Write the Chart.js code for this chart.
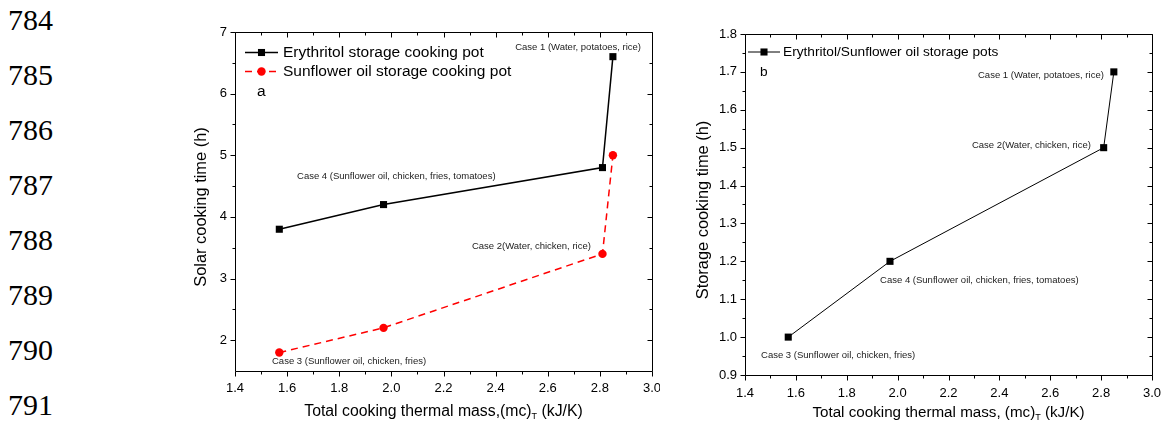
<!DOCTYPE html>
<html>
<head>
<meta charset="utf-8">
<script src="https://cdn.jsdelivr.net/npm/chart.js@4.4.1/dist/chart.umd.min.js"></script>
<style>
  body { margin: 0; background: #fff; width: 1175px; height: 426px; overflow: hidden; position: relative; }
  .ln { position: absolute; left: 8px; font: 30px "Liberation Serif", "Times New Roman", serif; line-height: 30px; color: #000; }
  canvas { position: absolute; top: 0; }
</style>
</head>
<body>
<div id="lines"></div>
<canvas id="chartA" width="480" height="426" style="left:180px"></canvas>
<canvas id="chartB" width="495" height="426" style="left:680px"></canvas>
<script>
// ---- data ----
const lineNumbers = [784, 785, 786, 787, 788, 789, 790, 791];
const thermalMass = [1.57, 1.97, 2.81, 2.85];          // (mc)_T, kJ/K
const erythritolSolar = [3.8, 4.2, 4.8, 6.6];          // h
const sunflowerSolar = [1.8, 2.2, 3.4, 5.0];           // h
const storageTime = [1.0, 1.2, 1.5, 1.7];              // h
const xTicks = [1.4, 1.6, 1.8, 2.0, 2.2, 2.4, 2.6, 2.8, 3.0];
const yTicksA = [2, 3, 4, 5, 6, 7];
const yTicksB = [0.9, 1.0, 1.1, 1.2, 1.3, 1.4, 1.5, 1.6, 1.7, 1.8];

// case labels, anchored in data coordinates (left edge, middle)
const notesA = [
  { text: 'Case 1 (Water, potatoes, rice)', x: 2.475, y: 6.75 },
  { text: 'Case 4 (Sunflower oil, chicken, fries, tomatoes)', x: 1.638, y: 4.65 },
  { text: 'Case 2(Water, chicken, rice)', x: 2.309, y: 3.52 },
  { text: 'Case 3 (Sunflower oil, chicken, fries)', x: 1.542, y: 1.66 }
];
const notesB = [
  { text: 'Case 1 (Water, potatoes, rice)', x: 2.316, y: 1.69 },
  { text: 'Case 2(Water, chicken, rice)', x: 2.292, y: 1.505 },
  { text: 'Case 4 (Sunflower oil, chicken, fries, tomatoes)', x: 1.931, y: 1.151 },
  { text: 'Case 3 (Sunflower oil, chicken, fries)', x: 1.463, y: 0.953 }
];

// line numbers down the page margin
const linesDiv = document.getElementById('lines');
lineNumbers.forEach((n, i) => {
  const d = document.createElement('div');
  d.className = 'ln';
  d.style.top = (5 + i * 55) + 'px';
  d.textContent = n;
  linesDiv.appendChild(d);
});

const FONT = '"Liberation Sans", Arial, sans-serif';

function points(xs, ys) {
  return xs.map((x, i) => ({ x: x, y: ys[i] }));
}

function midpoints(ticks) {
  const out = [];
  for (let i = 0; i < ticks.length - 1; i++) out.push((ticks[i] + ticks[i + 1]) / 2);
  return out;
}

function drawMarker(ctx, ds, cx, cy) {
  ctx.fillStyle = ds.backgroundColor;
  ctx.beginPath();
  if (ds.pointStyle === 'rect') {
    const h = ds.pointRadius * Math.SQRT1_2;
    ctx.rect(cx - h, cy - h, 2 * h, 2 * h);
  } else {
    ctx.arc(cx, cy, ds.pointRadius, 0, Math.PI * 2);
  }
  ctx.fill();
}

// frame + Origin-style ticks (left/bottom out, top/right in)
const framePlugin = {
  id: 'frame',
  afterDraw(chart, args, o) {
    const { ctx, chartArea: a, scales: { x, y } } = chart;
    ctx.save();
    ctx.strokeStyle = '#000';
    ctx.lineWidth = 1;
    ctx.setLineDash([]);
    const L = Math.round(a.left) + 0.5, R = Math.round(a.right) + 0.5;
    const T = Math.round(a.top) + 0.5, B = Math.round(a.bottom) + 0.5;
    ctx.beginPath();
    ctx.rect(L, T, R - L, B - T);
    const xt = (v, len) => {
      const px = Math.round(x.getPixelForValue(v)) + 0.5;
      ctx.moveTo(px, B); ctx.lineTo(px, B + len);
      ctx.moveTo(px, T); ctx.lineTo(px, T + len);
    };
    const yt = (v, len) => {
      const py = Math.round(y.getPixelForValue(v)) + 0.5;
      ctx.moveTo(L - len, py); ctx.lineTo(L, py);
      ctx.moveTo(R - len, py); ctx.lineTo(R, py);
    };
    xTicks.forEach(v => xt(v, 5));
    midpoints(xTicks).forEach(v => xt(v, 3));
    o.yTicks.forEach(v => yt(v, 5));
    midpoints(o.yTicks).forEach(v => yt(v, 3));
    ctx.stroke();
    ctx.restore();
  }
};

// axis titles, inner legend, panel letter and case labels
const textPlugin = {
  id: 'texts',
  afterDraw(chart, args, o) {
    const { ctx, chartArea: a, scales: { x, y } } = chart;
    ctx.save();
    ctx.fillStyle = '#000';
    ctx.textBaseline = 'middle';

    // x title with subscript T
    const parts = [
      { t: o.xTitle[0], f: o.xTitleSize + 'px ' + FONT, dy: 0 },
      { t: 'T', f: '9px ' + FONT, dy: 5 },
      { t: o.xTitle[1], f: o.xTitleSize + 'px ' + FONT, dy: 0 }
    ];
    let total = 0;
    parts.forEach(p => { ctx.font = p.f; p.w = ctx.measureText(p.t).width; total += p.w; });
    let tx = (a.left + a.right) / 2 - total / 2;
    ctx.textAlign = 'left';
    parts.forEach(p => { ctx.font = p.f; ctx.fillText(p.t, tx, o.xTitleY + p.dy); tx += p.w; });

    // y title
    ctx.save();
    ctx.translate(o.yTitleX, o.yTitleY);
    ctx.rotate(-Math.PI / 2);
    ctx.textAlign = 'center';
    ctx.font = '16.4px ' + FONT;
    ctx.fillText(o.yTitle, 0, 0);
    ctx.restore();

    // legend
    const lg = o.legend;
    chart.data.datasets.forEach((ds, i) => {
      const ly = a.top + lg.y + i * lg.gap;
      ctx.save();
      ctx.strokeStyle = ds.borderColor;
      ctx.lineWidth = ds.borderWidth;
      ctx.setLineDash(ds.borderDash || []);
      ctx.beginPath();
      ctx.moveTo(a.left + lg.x0, ly);
      ctx.lineTo(a.left + lg.x1, ly);
      ctx.stroke();
      ctx.restore();
      drawMarker(ctx, ds, a.left + (lg.x0 + lg.x1) / 2, ly);
      ctx.fillStyle = '#000';
      ctx.font = lg.size + 'px ' + FONT;
      ctx.textAlign = 'left';
      ctx.fillText(ds.label, a.left + lg.tx, ly);
    });
    ctx.font = lg.size + 'px ' + FONT;
    ctx.fillText(o.letter.t, a.left + o.letter.x, a.top + o.letter.y);

    // case labels
    ctx.font = '9.5px ' + FONT;
    ctx.fillStyle = '#222';
    o.notes.forEach(n => {
      ctx.fillText(n.text, x.getPixelForValue(n.x), y.getPixelForValue(n.y));
    });
    ctx.restore();
  }
};

function makeChart(id, datasets, cfg) {
  return new Chart(document.getElementById(id), {
    type: 'scatter',
    data: { datasets: datasets },
    options: {
      responsive: false,
      animation: false,
      events: [],
      layout: { padding: { top: cfg.top, right: cfg.right, left: 0, bottom: 0 } },
      plugins: {
        legend: { display: false },
        tooltip: { enabled: false },
        frame: { yTicks: cfg.yTicks },
        texts: cfg.texts
      },
      scales: {
        x: {
          type: 'linear', min: 1.4, max: 3.0,
          grid: { display: false, drawTicks: false }, border: { display: false },
          afterBuildTicks: s => { s.ticks = xTicks.map(v => ({ value: v })); },
          afterFit: s => { s.height = cfg.xHeight; s.paddingLeft = 0; s.paddingRight = 0; },
          ticks: {
            autoSkip: false, maxRotation: 0, padding: cfg.xPad, color: '#000',
            font: { family: FONT, size: 13 },
            callback: v => Number(v).toFixed(1)
          }
        },
        y: {
          type: 'linear', min: cfg.yMin, max: cfg.yMax,
          grid: { display: false, drawTicks: false }, border: { display: false },
          afterBuildTicks: s => { s.ticks = cfg.yTicks.map(v => ({ value: v })); },
          afterFit: s => { s.width = cfg.yWidth; s.paddingTop = 0; s.paddingBottom = 0; },
          ticks: {
            autoSkip: false, padding: 8, color: '#000',
            font: { family: FONT, size: 13 },
            callback: cfg.yFormat
          }
        }
      }
    },
    plugins: [framePlugin, textPlugin]
  });
}

makeChart('chartA', [
  {
    label: 'Erythritol storage cooking pot',
    data: points(thermalMass, erythritolSolar),
    showLine: true, borderColor: '#000', backgroundColor: '#000',
    borderWidth: 1.5, pointStyle: 'rect', pointRadius: 5, pointBorderWidth: 0
  },
  {
    label: 'Sunflower oil storage cooking pot',
    data: points(thermalMass, sunflowerSolar),
    showLine: true, borderColor: '#ff0000', backgroundColor: '#ff0000',
    borderWidth: 1.5, borderDash: [7, 5], pointStyle: 'circle', pointRadius: 4.2, pointBorderWidth: 0
  }
], {
  top: 32, right: 8, xHeight: 55, yWidth: 55, xPad: 10, yMin: 1.5, yMax: 7,
  yTicks: yTicksA,
  yFormat: v => String(v),
  texts: {
    xTitle: ['Total cooking thermal mass,(mc)', ' (kJ/K)'], xTitleY: 412, xTitleSize: 15.8,
    yTitle: 'Solar cooking time (h)', yTitleX: 21, yTitleY: 207,
    legend: { x0: 10, x1: 43, tx: 48, y: 20.5, gap: 19, size: 15.5 },
    letter: { t: 'a', x: 22, y: 59.5 },
    notes: notesA
  }
});

makeChart('chartB', [
  {
    label: 'Erythritol/Sunflower oil storage pots',
    data: points(thermalMass, storageTime),
    showLine: true, borderColor: '#000', backgroundColor: '#000',
    borderWidth: 1, pointStyle: 'rect', pointRadius: 5, pointBorderWidth: 0
  }
], {
  top: 34, right: 23, xHeight: 51, yWidth: 65, xPad: 11, yMin: 0.9, yMax: 1.8,
  yTicks: yTicksB,
  yFormat: v => Number(v).toFixed(1),
  texts: {
    xTitle: ['Total cooking thermal mass, (mc)', ' (kJ/K)'], xTitleY: 413, xTitleSize: 15.2,
    yTitle: 'Storage cooking time (h)', yTitleX: 23, yTitleY: 210,
    legend: { x0: 3, x1: 35, tx: 38, y: 18, gap: 19, size: 13.7 },
    letter: { t: 'b', x: 15, y: 38 },
    notes: notesB
  }
});
</script>
</body>
</html>
